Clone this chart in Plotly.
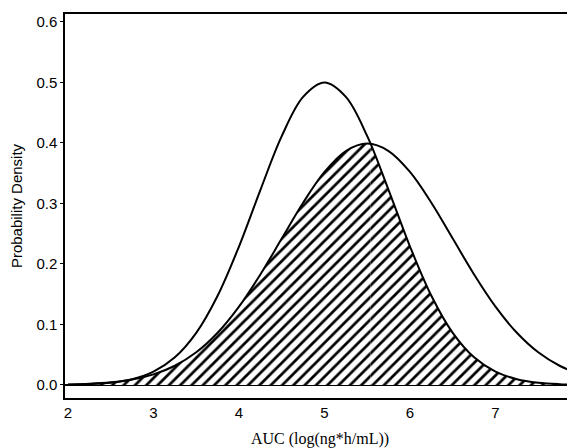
import plotly.graph_objects as go

# Values (probability density vs AUC)
auc = [2.0, 2.25, 2.5, 2.75, 3.0, 3.25, 3.5, 3.75, 4.0, 4.25, 4.5, 4.75, 5.0,
       5.25, 5.5, 5.75, 6.0, 6.25, 6.5, 6.75, 7.0, 7.25, 7.5, 7.75, 8.0]
density_tall = [0.0004, 0.0014, 0.0038, 0.0096, 0.0220, 0.0457, 0.0862, 0.1475,
                0.2289, 0.3222, 0.4113, 0.4762, 0.5000, 0.4762, 0.4113, 0.3222,
                0.2289, 0.1475, 0.0862, 0.0457, 0.0220, 0.0096, 0.0038, 0.0014, 0.0004]
density_wide = [0.0009, 0.0020, 0.0044, 0.0091, 0.0175, 0.0318, 0.0540, 0.0863,
                0.1295, 0.1827, 0.2420, 0.3012, 0.3521, 0.3867, 0.3990, 0.3867,
                0.3521, 0.3012, 0.2420, 0.1827, 0.1295, 0.0863, 0.0540, 0.0318, 0.0175]
crossing_x, crossing_y = 5.54, 0.399

x_ticks = [2, 3, 4, 5, 6, 7]
y_ticks = [0.0, 0.1, 0.2, 0.3, 0.4, 0.5, 0.6]
y_tick_labels = ["0.0", "0.1", "0.2", "0.3", "0.4", "0.5", "0.6"]

# Overlap region (min of the two curves), split at the crossing point
left_x = [x for x in auc if x < crossing_x] + [crossing_x]
left_y = [b for x, b in zip(auc, density_wide) if x < crossing_x] + [crossing_y]
right_x = [crossing_x] + [x for x in auc if x > crossing_x]
right_y = [crossing_y] + [a for x, a in zip(auc, density_tall) if x > crossing_x]

pattern = dict(shape="/", size=8, solidity=0.34, fgcolor="black", bgcolor="white",
               fgopacity=1)

fig = go.Figure()
for xs, ys in [(left_x, left_y), (right_x, right_y)]:
    fig.add_trace(go.Scatter(x=xs, y=ys, mode="lines", fill="tozeroy",
                             line=dict(width=0, shape="spline", color="black"),
                             fillpattern=pattern, fillcolor="white",
                             showlegend=False, hoverinfo="skip"))
for ys in [density_tall, density_wide]:
    fig.add_trace(go.Scatter(x=auc, y=ys, mode="lines",
                             line=dict(color="black", width=2, shape="spline"),
                             showlegend=False))

# page body adds an 8px offset, so the figure is sized to fit the window
fig.update_layout(
    width=567, height=440,
    margin=dict(l=57, r=0, t=6, b=50, autoexpand=False),
    paper_bgcolor="white", plot_bgcolor="white",
    font=dict(family="Liberation Sans", size=15, color="black"),
)
fig.update_xaxes(
    range=[1.965, 7.93], tickvals=x_ticks, ticktext=[str(t) for t in x_ticks],
    showline=True, linecolor="black", linewidth=1.5, mirror=True,
    ticks="", showgrid=False, zeroline=False, automargin=False,
    tickfont=dict(family="Liberation Sans", size=15),
    title=dict(text="AUC (log(ng*h/mL))", font=dict(family="Liberation Serif", size=16),
               standoff=14),
)
fig.update_yaxes(
    range=[-0.0215, 0.6132], tickvals=y_ticks, ticktext=y_tick_labels,
    showline=True, linecolor="black", linewidth=1.5, mirror=True,
    ticks="outside", ticklen=3, tickcolor="black", showgrid=False,
    zeroline=True, zerolinecolor="black", zerolinewidth=2, automargin=False,
    tickfont=dict(family="Liberation Sans", size=15),
    title=dict(text="Probability Density", font=dict(family="Liberation Sans", size=15),
               standoff=13),
)

fig.write_html("out.html")
